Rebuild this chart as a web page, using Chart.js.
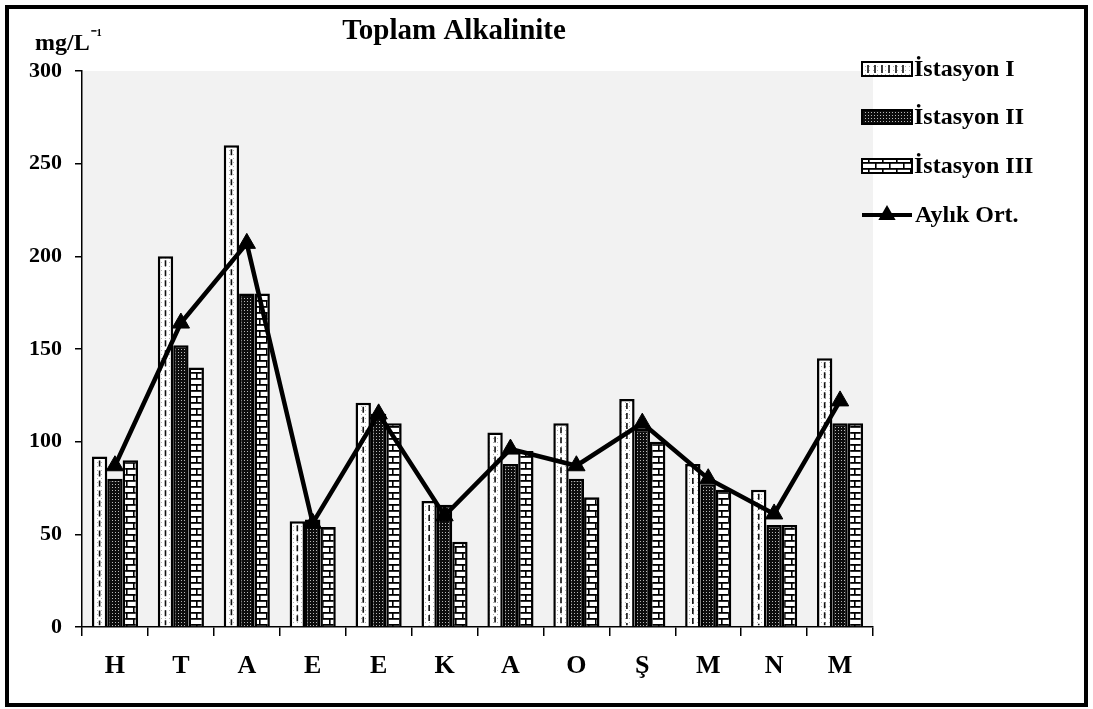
<!DOCTYPE html>
<html>
<head>
<meta charset="utf-8">
<script src="https://cdn.jsdelivr.net/npm/chart.js@4/dist/chart.umd.min.js"></script>
<style>
  html, body { margin: 0; padding: 0; background: #fff; }
  #wrap { width: 1093px; height: 709px; }
</style>
</head>
<body>
<div id="wrap"><canvas id="c" width="1093" height="709"></canvas></div>
<script>
// Monthly total alkalinity per station (mg/L)
const categories = ['H', 'T', 'A', 'E', 'E', 'K', 'A', 'O', 'Ş', 'M', 'N', 'M'];
const istasyon1 = [92, 200, 260, 57, 121, 68, 105, 110, 123, 88, 74, 145];
const istasyon2 = [80, 152, 180, 58, 115, 66, 88, 80, 107, 77, 55, 110];
const istasyon3 = [90, 140, 180, 54, 110, 46, 95, 70, 100, 74, 55, 110];
const aylikOrt  = [87, 164, 207, 56, 115, 60, 96, 87, 110, 80, 61, 122];
const seriesNames = ['İstasyon I', 'İstasyon II', 'İstasyon III', 'Aylık Ort.'];

const FONT = '"Liberation Serif", "Times New Roman", serif';

// Fill patterns for the three stations
function tile(w, h, paint) {
  const c = document.createElement('canvas');
  c.width = w; c.height = h;
  paint(c.getContext('2d'));
  return document.getElementById('c').getContext('2d').createPattern(c, 'repeat');
}
const dotsLight = tile(4, 4, g => {
  g.fillStyle = '#fff'; g.fillRect(0, 0, 4, 4);
  g.fillStyle = '#b0b0b0'; g.fillRect(1, 2, 1, 1);
});
const dotsDark = tile(3, 3, g => {
  g.fillStyle = '#0d0d0d'; g.fillRect(0, 0, 3, 3);
  g.fillStyle = '#b8b8b8'; g.fillRect(1, 1, 1, 1);
});
const bricks = tile(14, 12, g => {
  g.fillStyle = '#fff'; g.fillRect(0, 0, 14, 12);
  g.fillStyle = '#000';
  g.fillRect(0, 0, 14, 1.8);
  g.fillRect(0, 6, 14, 1.8);
  g.fillRect(0, 0, 1.6, 6);
  g.fillRect(7, 6, 1.6, 6);
});
const fills = [dotsLight, dotsDark, bricks];

function dashedCenter(ctx, x, y1, y2) {
  ctx.save();
  ctx.strokeStyle = '#111';
  ctx.lineWidth = 1.6;
  ctx.setLineDash([6, 4]);
  ctx.beginPath();
  ctx.moveTo(x, y1);
  ctx.lineTo(x, y2);
  ctx.stroke();
  ctx.restore();
}

function triangle(ctx, cx, cy, r) {
  ctx.beginPath();
  ctx.moveTo(cx, cy - r);
  ctx.lineTo(cx + r * Math.sqrt(3) / 2, cy + r / 2);
  ctx.lineTo(cx - r * Math.sqrt(3) / 2, cy + r / 2);
  ctx.closePath();
  ctx.fill();
}

const decor = {
  id: 'decor',
  beforeDraw(chart) {
    const { ctx, chartArea: a } = chart;
    ctx.save();
    ctx.fillStyle = '#fff';
    ctx.fillRect(0, 0, chart.width, chart.height);
    ctx.fillStyle = '#f2f2f2';
    ctx.fillRect(a.left, a.top, a.right - a.left, a.bottom - a.top);
    ctx.restore();
  },
  afterDatasetDraw(chart, args) {
    if (args.index !== 0) return;
    const ctx = chart.ctx;
    chart.getDatasetMeta(0).data.forEach(bar => {
      const p = bar.getProps(['x', 'y', 'base'], true);
      dashedCenter(ctx, p.x, p.y + 4, p.base - 1);
    });
  },
  afterDraw(chart) {
    const ctx = chart.ctx;
    ctx.save();
    ctx.fillStyle = '#000';
    ctx.textBaseline = 'middle';

    // title and unit
    ctx.font = 'bold 29px ' + FONT;
    ctx.textAlign = 'center';
    ctx.fillText('Toplam Alkalinite', 454, 32);
    ctx.textAlign = 'left';
    ctx.font = 'bold 24px ' + FONT;
    ctx.fillText('mg/L', 35, 44);
    const w = ctx.measureText('mg/L').width;
    ctx.font = 'bold 17px ' + FONT;
    ctx.fillText('⁻¹', 35 + w + 1, 37);

    // legend
    const bx = 862, bw = 50, bh = 14;
    const rows = [69, 117, 166];
    ctx.font = 'bold 24px ' + FONT;
    rows.forEach((cy, i) => {
      ctx.fillStyle = fills[i];
      ctx.fillRect(bx, cy - bh / 2, bw, bh);
      ctx.strokeStyle = '#000';
      ctx.lineWidth = 2;
      ctx.strokeRect(bx, cy - bh / 2, bw, bh);
      if (i === 0) {
        ctx.lineWidth = 1.5;
        for (let x = bx + 6; x < bx + bw - 2; x += 7) {
          ctx.beginPath();
          ctx.moveTo(x, cy - bh / 2 + 3);
          ctx.lineTo(x, cy + bh / 2 - 3);
          ctx.stroke();
        }
      }
      ctx.fillStyle = '#000';
      ctx.fillText(seriesNames[i], bx + bw + 2, cy + 1);
    });
    const ly = 215;
    ctx.strokeStyle = '#000';
    ctx.lineWidth = 4;
    ctx.beginPath();
    ctx.moveTo(bx, ly);
    ctx.lineTo(bx + bw, ly);
    ctx.stroke();
    ctx.fillStyle = '#000';
    triangle(ctx, bx + bw / 2, ly, 10);
    ctx.fillText(seriesNames[3], bx + bw + 3, ly + 1);

    // outer frame
    ctx.strokeStyle = '#000';
    ctx.lineWidth = 4;
    ctx.strokeRect(7, 7, 1079, 698);
    ctx.restore();
  }
};

new Chart(document.getElementById('c'), {
  type: 'bar',
  data: {
    labels: categories,
    datasets: [
      { label: seriesNames[0], data: istasyon1, backgroundColor: fills[0], borderColor: '#000', borderWidth: 2.5, order: 1 },
      { label: seriesNames[1], data: istasyon2, backgroundColor: fills[1], borderColor: '#000', borderWidth: 2.5, order: 1 },
      { label: seriesNames[2], data: istasyon3, backgroundColor: fills[2], borderColor: '#000', borderWidth: 2.5, order: 1 },
      {
        type: 'line', label: seriesNames[3], data: aylikOrt, order: 0,
        borderColor: '#000', borderWidth: 4.5, tension: 0,
        pointStyle: 'triangle', pointRadius: 10, pointBackgroundColor: '#000', pointBorderColor: '#000', pointBorderWidth: 1
      }
    ]
  },
  options: {
    responsive: false,
    animation: false,
    events: [],
    categoryPercentage: 0.7,
    barPercentage: 1.0,
    layout: { padding: { top: 71, right: 220, left: 0, bottom: 0 } },
    plugins: { legend: { display: false }, title: { display: false }, tooltip: { enabled: false } },
    scales: {
      x: {
        offset: true,
        grid: { offset: true, drawOnChartArea: false, drawTicks: true, tickLength: 9, color: '#000', lineWidth: 1.5 },
        border: { color: '#000', width: 1.5 },
        ticks: { color: '#000', font: { family: FONT, size: 26, weight: 'bold' }, padding: 15, maxRotation: 0 },
        afterFit(s) { s.height = 82; }
      },
      y: {
        min: 0, max: 300,
        grid: { drawOnChartArea: false, drawTicks: true, tickLength: 7, color: '#000', lineWidth: 1.5 },
        border: { color: '#000', width: 1.5 },
        ticks: { stepSize: 50, color: '#000', font: { family: FONT, size: 22, weight: 'bold' }, padding: 13 },
        afterFit(s) { s.width = 82; }
      }
    }
  },
  plugins: [decor]
});
</script>
</body>
</html>
